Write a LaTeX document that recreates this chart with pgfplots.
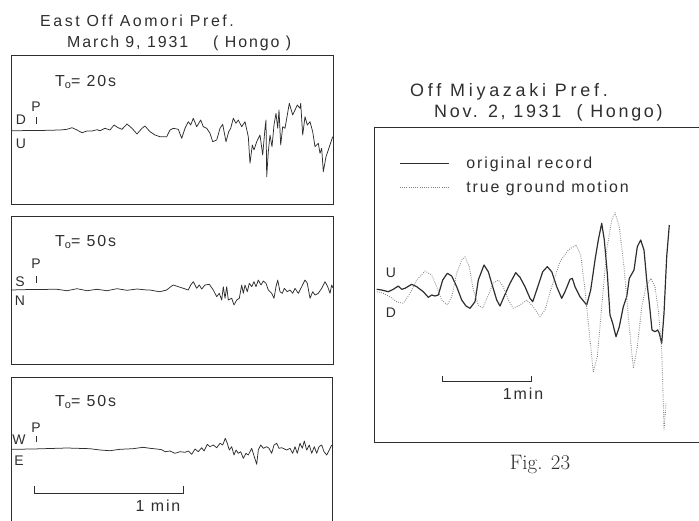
\documentclass[border=0pt]{standalone}
\usepackage{pgfplots}
\pgfplotsset{compat=1.18}
\usepackage{fontspec}
\newfontfamily\lettering[LetterSpace=12]{Liberation Sans}
\newfontfamily\letteringA[LetterSpace=16]{Liberation Sans}
\newfontfamily\letteringB[LetterSpace=21]{Liberation Sans}
\newfontfamily\letteringC[LetterSpace=15]{Liberation Sans}
\definecolor{ink}{gray}{0.18}
\definecolor{dotc}{gray}{0.5}
\pgfplotsset{
  panel/.style={scale only axis, y dir=reverse, ticks=none, hide axis,
    anchor=north west, clip=false},
  trace/.style={ink, line width=0.75bp, line join=round, no marks},
}
\newcommand{\lab}{\lettering\fontsize{14}{16}\selectfont}
\newcommand{\ttl}{\lettering\fontsize{16}{18}\selectfont}
\newcommand{\ttla}{\letteringA\fontsize{16}{18}\selectfont}
\newcommand{\ttlb}{\letteringB\fontsize{18}{20}\selectfont}
\newcommand{\ttlc}{\letteringC\fontsize{18}{20}\selectfont}
\begin{document}
\begin{tikzpicture}
\useasboundingbox (0,0) rectangle (699bp,-521bp);

% ---------- titles ----------
\node[anchor=west, inner sep=0pt, font=\ttla, ink] at (40bp,-21bp) {East Off Aomori Pref.};
\node[anchor=west, inner sep=0pt, font=\ttl, ink] at (67bp,-43bp) {March 9, 1931};
\node[anchor=west, inner sep=0pt, font=\ttl, ink] at (213bp,-43bp) {( Hongo )};
\node[anchor=west, inner sep=0pt, font=\ttlb, ink] at (410bp,-92bp) {Off Miyazaki Pref.};
\node[anchor=west, inner sep=0pt, font=\ttlc, ink] at (434bp,-113bp) {Nov. 2, 1931 \ ( Hongo)};
\node[font=\rmfamily\fontsize{21}{24}\selectfont, ink] at (540bp,-465bp) {Fig. 23};

% ---------- panel 1 : UD, T0 = 20 s ----------
\begin{axis}[panel, at={(11bp,-55bp)}, width=322bp, height=149bp,
  xmin=11, xmax=333, ymin=55, ymax=204]
\draw[ink, line width=0.8bp] (axis cs:11,55) rectangle (axis cs:333,204);
\addplot[trace] coordinates {
(11,130.7)(40,130.5)(60,130)(67,129.3)(72,127.7)(77,130)(82,132.7)(87,131)(92,131)
(97,129.7)(100,130.7)(105,128.3)(110,130)(114,125)(118,127.7)(122,129.3)(127,124)
(132,128.3)(137,134)(142,128.3)(145,126)(150,131.7)(155,135)(160,136.7)(166.7,136.7)
(170,130)(173.3,128.3)(178.3,129.3)(181.7,138.3)(185,128.3)(188.3,121.7)(190.7,125)
(193.3,118.3)(196.7,126.7)(200.7,120)(203.3,126.7)(206.7,128.3)(210,133.3)(212.7,141.7)
(216.7,140)(220,128.3)(222.7,124.3)(226,141.7)(228.7,131.7)(230.7,128.3)(233.3,118.3)
(236,123.3)(238.3,120)(241.7,126.7)(245,121.7)(248.3,136.7)(250,163.3)(252.3,145)
(254,150)(256.7,141.7)(260,135)(262.7,155)(265,128.3)(266,120)(266.7,176.7)(268.3,151.7)
(270,135)(272,146.7)(274,125)(276,113.3)(277.7,128.3)(279,110)(280.7,145)(282.7,126.7)
(285,128.3)(287.3,115)(289.3,103.3)(292.7,115)(295,110)(297.3,105)(300,108.3)(300.7,103.3)
(302.7,135)(305,116.7)(307.3,125)(310,121.7)(312.7,131.7)(315,146.7)(318.3,143.3)
(320,153.3)(321.7,148.3)(323.3,171.7)(326,156.7)(328.3,150)(332.7,136.7)
};
\node[font=\ttl, ink, anchor=west, inner sep=0pt] at (axis cs:55,82) {T\raisebox{-0.35ex}{\fontsize{11}{11}\selectfont o}= 20s};
\node[font=\lab, ink] at (axis cs:21,120) {D};
\node[font=\lab, ink] at (axis cs:21,144) {U};
\node[font=\lab, ink] at (axis cs:36,107) {P};
\draw[ink, line width=0.7bp] (axis cs:36,117) -- (axis cs:36,124);
\end{axis}

% ---------- panel 2 : NS, T0 = 50 s ----------
\begin{axis}[panel, at={(11bp,-216bp)}, width=322bp, height=148bp,
  xmin=11, xmax=333, ymin=216, ymax=364]
\draw[ink, line width=0.8bp] (axis cs:11,216) rectangle (axis cs:333,364);
\addplot[trace] coordinates {
(11,290)(30,289.5)(57,289.3)(67,290.7)(77,288.7)(87,290.7)(97,289.3)(107,290.7)(117,288.7)
(127,290.3)(137,289)(147,290)(150,290)(157,291.3)(160,291.7)(166.7,290)(171.7,286)
(173.3,285)(178.3,286.7)(183.3,288.3)(188.3,290)(190.7,285)(193.3,281.7)(196.7,288.3)
(199.3,285)(201.7,289)(205,285)(209.3,284.3)(213.3,290)(216.7,296.7)(219.3,293.3)
(221.7,300)(223.3,286.7)(225,298.3)(226.7,286.7)(228.3,300)(231.7,298.3)(234,305)
(236.7,300)(239.3,298.3)(241.7,285)(243.3,293.3)(245,285)(247.3,291.7)(249.3,283.3)
(251.7,286.7)(254,281.7)(256,286.7)(258.3,280)(261,285)(263.3,281)(266,283.3)(268.3,290)
(271.7,293.3)(274,298.3)(276,286.7)(277.7,280)(280,291.7)(282.3,293.3)(284.3,288.3)
(287.3,291.7)(290,290)(292.7,293.3)(295,288.3)(298.3,293.3)(301.7,286.7)(305,280)
(307.3,283.3)(310,298.3)(312.7,291.7)(315,295)(318.3,293.3)(321.7,288.3)(325,281.7)
(327.7,286.7)(330,293.3)(331.7,285)(333,288)
};
\node[font=\ttl, ink, anchor=west, inner sep=0pt] at (axis cs:55,242) {T\raisebox{-0.35ex}{\fontsize{11}{11}\selectfont o}= 50s};
\node[font=\lab, ink] at (axis cs:20,282) {S};
\node[font=\lab, ink] at (axis cs:20,301) {N};
\node[font=\lab, ink] at (axis cs:36,264) {P};
\draw[ink, line width=0.7bp] (axis cs:36,276) -- (axis cs:36,283);
\end{axis}

% ---------- panel 3 : EW, T0 = 50 s ----------
\begin{axis}[panel, at={(11bp,-377bp)}, width=321bp, height=144bp,
  xmin=11, xmax=332, ymin=377, ymax=521]
\draw[ink, line width=0.8bp] (axis cs:11,521) -- (axis cs:11,377) -- (axis cs:332,377) -- (axis cs:332,521);
\addplot[trace] coordinates {
(12,449.3)(33,449)(67,448)(90,448.7)(100,450)(110,450.7)(120,449.3)(133,448.7)(143,447.3)
(150,448.3)(156.7,449)(161.7,449.7)(165,451.7)(170,451)(175,453.3)(180,451.7)(185,452.3)
(188.3,451)(191.7,454.3)(195,449)(198.3,451.7)(201.7,447.7)(204,451)(207.3,444.3)(210,446.7)
(213.3,445)(216.7,447.7)(220,443.3)(222.7,445)(225.3,438.3)(227.3,443.3)(229.3,450)
(231.7,446.7)(234,455)(236,450)(238.3,453.3)(240.7,451.7)(243.3,458.3)(246,453.3)(248.3,455)
(251.7,448.3)(254.3,456.7)(256.7,464.3)(258.3,450)(260.7,445)(263.3,448.3)(266.7,446.7)
(269,448.3)(271.7,453.3)(274,445)(276.7,443.3)(279,448.3)(281.7,447.7)(286.7,450)(290,448.3)
(292.7,453.3)(295,446.7)(297.3,453.3)(300,443.3)(302.3,448.3)(304.3,441)(306.7,450)
(309.3,445)(311.7,453.3)(314.3,446.7)(316.7,453.3)(319,446.7)(321.7,445)(324,451.7)
(326.7,455)(329.3,450)(331.7,445)
};
\node[font=\ttl, ink, anchor=west, inner sep=0pt] at (axis cs:55,402) {T\raisebox{-0.35ex}{\fontsize{11}{11}\selectfont o}= 50s};
\node[font=\lab, ink] at (axis cs:19,440) {W};
\node[font=\lab, ink] at (axis cs:19,461) {E};
\node[font=\lab, ink] at (axis cs:36,428) {P};
\draw[ink, line width=0.7bp] (axis cs:36,436) -- (axis cs:36,442);
\draw[ink, line width=0.7bp] (axis cs:34,486) -- (axis cs:34,493) -- (axis cs:183,493) -- (axis cs:183,486);
\node[font=\ttl, ink] at (axis cs:158,506) {1 min};
\end{axis}

% ---------- right panel : Off Miyazaki ----------
\begin{axis}[panel, at={(374bp,-127bp)}, width=325bp, height=315bp,
  xmin=374, xmax=699, ymin=127, ymax=442,
  legend cell align=left,
  legend image code/.code={\draw[#1] (0bp,0bp) -- (49bp,0bp);},
  legend style={at={(axis cs:396,153)}, anchor=north west, draw=none, fill=none,
    font=\ttl, text=ink, row sep=7bp, column sep=15bp}]
\draw[ink, line width=0.8bp] (axis cs:699,127) -- (axis cs:374,127) -- (axis cs:374,442) -- (axis cs:699,442);
\addplot[ink, line width=1.2bp, line join=round, no marks] coordinates {
(376.7,289.3)(381.7,290)(388.3,291.7)(393.3,289.3)(398.3,286)(401.7,289.3)(405,288.3)
(411.7,284.3)(416.7,286.7)(423.3,291.7)(428.3,297.3)(431.7,295)(435,296)(438.3,295)
(442.7,280)(447.3,273.3)(451.7,276)(456.7,286.7)(461.7,300)(466,306)(470,308.3)(475,301.7)
(478.3,280)(484,265)(488.3,271.7)(492.7,286.7)(496.7,300)(500,306)(504,296.7)(510,283.3)
(515.7,272.7)(520,277.3)(525,286.7)(530,298.3)(532.7,301.7)(536.7,290)(542.7,271.7)
(547.3,266.7)(551.7,271.7)(556.7,286.7)(561.7,298.3)(565,291.7)(570,279.3)(572.3,278.3)
(575,286.7)(580,296.7)(586.7,305)(590.7,290)(595,260)(598.3,240)(601.7,223.3)(604.3,240)
(607.3,273.3)(610,315)(612.7,323.3)(616,336.7)(619.3,326.7)(623.3,306.7)(626.7,296.7)
(629.3,278.3)(634,270)(637.3,246.7)(640.7,240)(644,250)(646.7,280)(649.3,303.3)(652,330)
(655,331.7)(657.7,330)(659.3,333.3)(661.7,343.3)(664,313.3)(666.7,256.7)(669.3,225)
};
\addlegendentry{original record}
\addplot[dotc, line width=0.9bp, dash pattern=on 0.8bp off 1.4bp, line join=round, no marks] coordinates {
(376.7,291.7)(383.3,293.3)(390,296.7)(396.7,301.7)(403.3,303.3)(410,293.3)(416.7,280)
(425,271)(431.7,275)(436.7,286.7)(441.7,300)(447.3,305)(451.7,296.7)(456.7,273.3)
(461.7,260)(465,256.7)(469.3,266.7)(473.3,290)(478.3,305)(482.7,308.3)(488.3,295)
(493.3,283.3)(498.3,280)(503.3,286.7)(508.3,300)(513.3,308.3)(520,305)(526.7,300)
(533.3,306.7)(540,316.7)(545,310)(551.7,286.7)(560,261.7)(568.3,250)(576,245)(580.7,255)
(585,290)(589.3,333.3)(593.3,371.7)(597.3,356.7)(601.7,306.7)(606.7,250)(611.7,220)
(615,212.7)(619.3,226.7)(624,266.7)(628.3,316.7)(633.3,368.3)(637.3,346.7)(641.7,306.7)
(646,286.7)(650.7,278.3)(655,286.7)(658.3,310)(661.7,350)(663.3,403.3)(664,430)(666,403.3)
};
\addlegendentry{true ground motion}
\node[font=\lab, ink] at (axis cs:391,273) {U};
\node[font=\lab, ink] at (axis cs:391,313) {D};
\draw[ink, line width=0.7bp] (axis cs:442,376) -- (axis cs:442,381) -- (axis cs:531,381) -- (axis cs:531,376);
\node[font=\ttl, ink] at (axis cs:523,394) {1min};
\end{axis}
\end{tikzpicture}
\end{document}
